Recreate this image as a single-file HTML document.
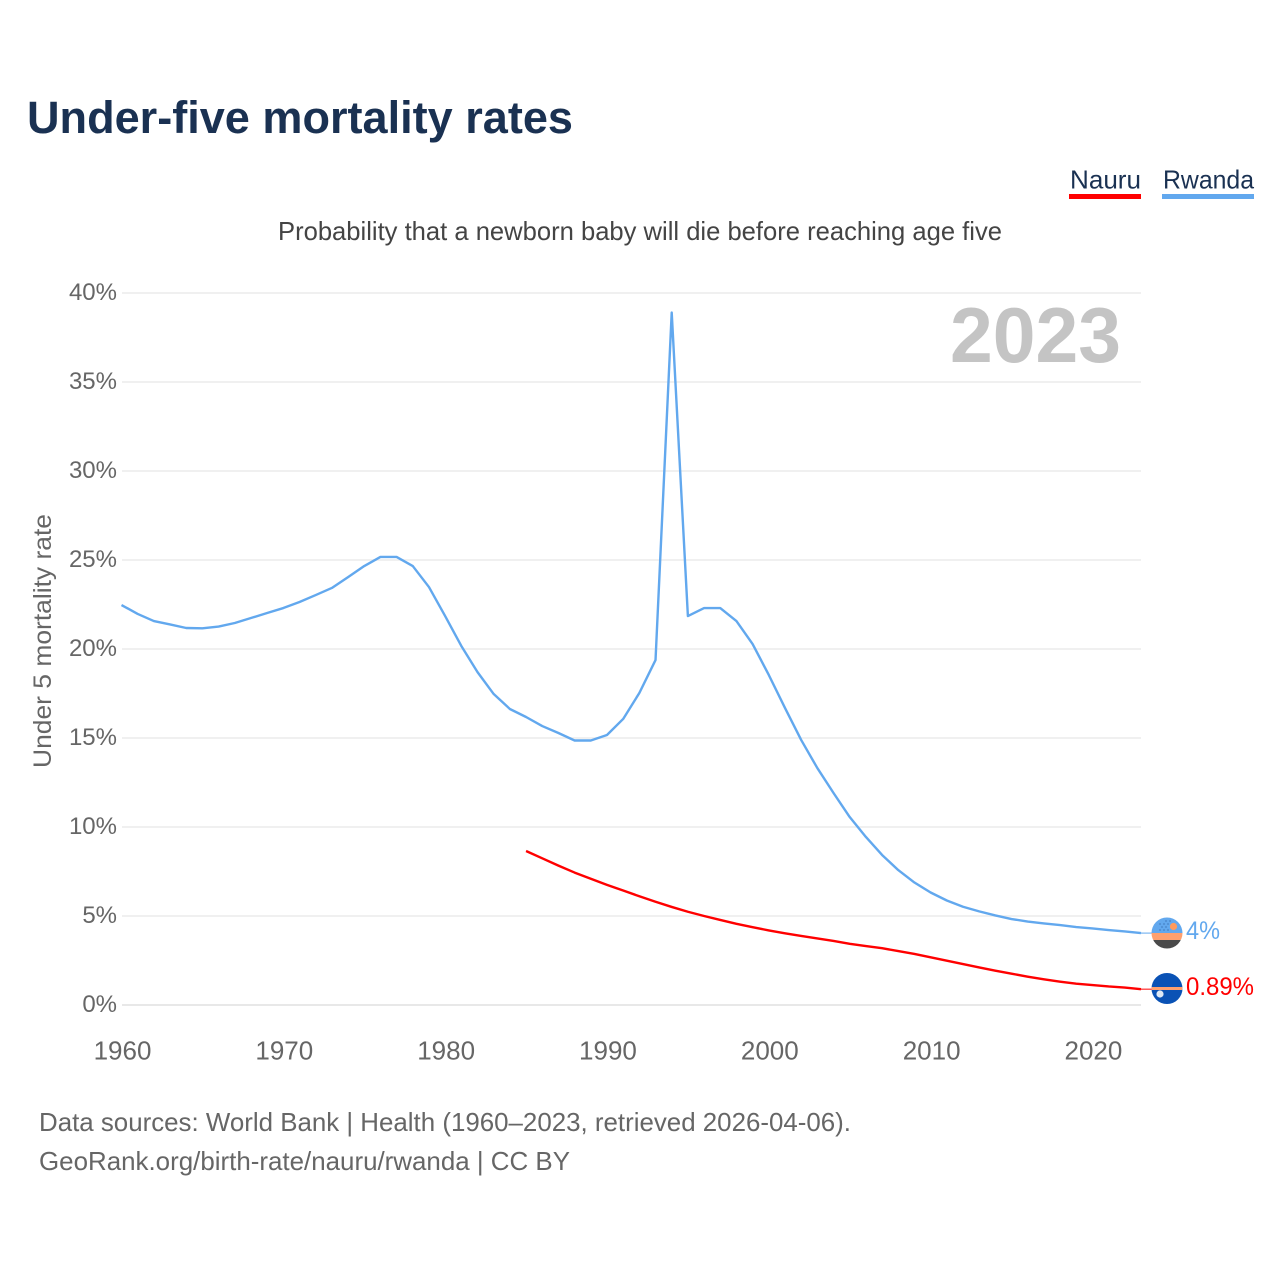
<!DOCTYPE html>
<html lang="en">
<head>
<meta charset="utf-8">
<title>Under-five mortality rates</title>
<style>
  html, body { margin: 0; padding: 0; background: #fff; }
  svg { display: block; font-family: "Liberation Sans", "DejaVu Sans", sans-serif; }
</style>
</head>
<body>
<svg id="chart" xmlns="http://www.w3.org/2000/svg" width="1280" height="1280" viewBox="0 0 1280 1280">
  <defs>
    <clipPath id="flag-clip-rwanda"><circle cx="1167" cy="933" r="15.5"></circle></clipPath>
    <clipPath id="flag-clip-nauru"><circle cx="1167" cy="988.5" r="15.5"></circle></clipPath>
  </defs>
  <rect width="1280" height="1280" fill="#ffffff"></rect>

  <text x="27" y="133" font-size="45" font-weight="700" fill="#1a3152" textLength="546" lengthAdjust="spacingAndGlyphs">Under-five mortality rates</text>

  <g>
    <g>
      <text x="1070" y="188.5" font-size="26" fill="#1a3152" textLength="71" lengthAdjust="spacingAndGlyphs">Nauru</text>
      <rect x="1069" y="194" width="72" height="5" fill="#ff0000"></rect>
    </g>
    <g>
      <text x="1163" y="188.5" font-size="26" fill="#1a3152" textLength="91" lengthAdjust="spacingAndGlyphs">Rwanda</text>
      <rect x="1162" y="194" width="92" height="5" fill="#62a8ee"></rect>
    </g>
  </g>

  <text x="278" y="240" font-size="26" fill="#444444" textLength="724" lengthAdjust="spacingAndGlyphs">Probability that a newborn baby will die before reaching age five</text>

  <g id="grid"></g>
  <g id="y-ticks"></g>
  <g id="x-ticks"></g>

  <text transform="translate(51,768) rotate(-90)" font-size="25" fill="#666666" textLength="254" lengthAdjust="spacingAndGlyphs">Under 5 mortality rate</text>

  <text x="950" y="362" font-size="78" font-weight="700" fill="#c4c4c4" textLength="171" lengthAdjust="spacingAndGlyphs">2023</text>

  <g id="series"></g>

  <g clip-path="url(#flag-clip-rwanda)">
    <rect x="1151" y="917" width="32" height="16" fill="#62a8ee"></rect>
    <rect x="1151" y="933" width="32" height="7" fill="#ffa06e"></rect>
    <rect x="1151" y="940" width="32" height="9" fill="#4a4a4a"></rect>
    <circle cx="1173.5" cy="926.5" r="3.6" fill="#ff9a5c"></circle>
    <g fill="#2a5f9e">
      <circle cx="1160" cy="930" r=".6"></circle><circle cx="1164" cy="930" r=".6"></circle><circle cx="1168" cy="930" r=".6"></circle>
      <circle cx="1162" cy="927" r=".6"></circle><circle cx="1166" cy="927" r=".6"></circle>
      <circle cx="1160" cy="924" r=".6"></circle><circle cx="1164" cy="924" r=".6"></circle><circle cx="1168" cy="924" r=".6"></circle>
      <circle cx="1166" cy="921" r=".6"></circle><circle cx="1170" cy="921" r=".6"></circle>
    </g>
  </g>
  <g clip-path="url(#flag-clip-nauru)">
    <rect x="1151" y="973" width="32" height="32" fill="#0a52b5"></rect>
    <rect x="1151" y="987" width="32" height="3" fill="#ffa06e"></rect>
    <circle cx="1160" cy="994" r="3.6" fill="#dfe9f5"></circle>
  </g>

  <text id="value-rwanda" x="1186" y="939" font-size="25" fill="#62a8ee" textLength="34" lengthAdjust="spacingAndGlyphs">4%</text>
  <text id="value-nauru" x="1186" y="995" font-size="25" fill="#ff0000" textLength="68" lengthAdjust="spacingAndGlyphs">0.89%</text>

  <g>
    <text x="39" y="1131" font-size="26" fill="#666666" textLength="812" lengthAdjust="spacingAndGlyphs">Data sources: World Bank | Health (1960–2023, retrieved 2026-04-06).</text>
    <text x="39" y="1170" font-size="26" fill="#666666" textLength="531" lengthAdjust="spacingAndGlyphs">GeoRank.org/birth-rate/nauru/rwanda | CC BY</text>
  </g>
</svg>
<script>
const yTickValues = [0, 5, 10, 15, 20, 25, 30, 35, 40];
const xTickYears = [1960, 1970, 1980, 1990, 2000, 2010, 2020];
const rwandaStartYear = 1960;
const rwandaValues = [
  22.47, 21.97, 21.57, 21.38, 21.18, 21.16, 21.26, 21.46, 21.74, 22.02,
  22.30, 22.64, 23.03, 23.43, 24.04, 24.66, 25.17, 25.17, 24.66, 23.48,
  21.85, 20.17, 18.70, 17.47, 16.63, 16.18, 15.67, 15.28, 14.86, 14.86,
  15.17, 16.07, 17.53, 19.38, 38.90, 21.85, 22.30, 22.30, 21.57, 20.28,
  18.54, 16.69, 14.89, 13.31, 11.91, 10.56, 9.44, 8.43, 7.58, 6.88,
  6.32, 5.87, 5.52, 5.26, 5.03, 4.83, 4.69, 4.58, 4.49, 4.38,
  4.30, 4.21, 4.13, 4.04
];
const nauruStartYear = 1985;
const nauruValues = [
  8.65, 8.24, 7.83, 7.44, 7.09, 6.75, 6.43, 6.11, 5.80, 5.51,
  5.24, 5.00, 4.78, 4.56, 4.37, 4.19, 4.03, 3.88, 3.74, 3.60,
  3.44, 3.31, 3.19, 3.03, 2.87, 2.68, 2.49, 2.30, 2.11, 1.93,
  1.76, 1.59, 1.44, 1.31, 1.20, 1.12, 1.04, 0.98, 0.89
];

const SVG_NS = 'http://www.w3.org/2000/svg';
const xScale = function (year) { return 121.5 + (year - 1960) * (1141 - 121.5) / 63; };
const yScale = function (value) { return 1005 - value * 17.8; };

const grid = document.getElementById('grid');
const yTicks = document.getElementById('y-ticks');
const xTicks = document.getElementById('x-ticks');
const series = document.getElementById('series');

yTickValues.forEach(function (v) {
  const line = document.createElementNS(SVG_NS, 'line');
  
  
  line.setAttribute('x1', 122);
  line.setAttribute('x2', 1141);
  line.setAttribute('y1', yScale(v));
  line.setAttribute('y2', yScale(v));
  line.setAttribute('stroke', v === 0 ? '#e8e8e8' : '#f0f0f0');
  line.setAttribute('stroke-width', 2);
  grid.appendChild(line);

  const label = document.createElementNS(SVG_NS, 'text');
  
  
  label.setAttribute('x', 117);
  label.setAttribute('y', yScale(v) + 7);
  label.setAttribute('text-anchor', 'end');
  label.setAttribute('font-size', 24);
  label.setAttribute('fill', '#666666');
  label.textContent = v + '%';
  yTicks.appendChild(label);
});

xTickYears.forEach(function (year) {
  const label = document.createElementNS(SVG_NS, 'text');
  
  
  label.setAttribute('x', xScale(year) + 1);
  label.setAttribute('y', 1059.5);
  label.setAttribute('text-anchor', 'middle');
  label.setAttribute('font-size', 26);
  label.setAttribute('fill', '#666666');
  label.textContent = String(year);
  xTicks.appendChild(label);
});

function linePoints(values, startYear) {
  return values.map(function (v, i) {
    return xScale(startYear + i).toFixed(2) + ',' + yScale(v).toFixed(2);
  }).join(' ');
}

const rwandaLeader = document.createElementNS(SVG_NS, 'line');


rwandaLeader.setAttribute('x1', xScale(2023));
rwandaLeader.setAttribute('x2', 1152);
rwandaLeader.setAttribute('y1', yScale(rwandaValues[rwandaValues.length - 1]));
rwandaLeader.setAttribute('y2', yScale(rwandaValues[rwandaValues.length - 1]));
rwandaLeader.setAttribute('stroke', '#62a8ee');
rwandaLeader.setAttribute('stroke-width', 1);
series.appendChild(rwandaLeader);

const nauruLeader = document.createElementNS(SVG_NS, 'line');


nauruLeader.setAttribute('x1', xScale(2023));
nauruLeader.setAttribute('x2', 1152);
nauruLeader.setAttribute('y1', yScale(nauruValues[nauruValues.length - 1]));
nauruLeader.setAttribute('y2', yScale(nauruValues[nauruValues.length - 1]));
nauruLeader.setAttribute('stroke', '#ff0000');
nauruLeader.setAttribute('stroke-width', 1);
series.appendChild(nauruLeader);

const rwandaLine = document.createElementNS(SVG_NS, 'polyline');


rwandaLine.setAttribute('points', linePoints(rwandaValues, rwandaStartYear));
rwandaLine.setAttribute('fill', 'none');
rwandaLine.setAttribute('stroke', '#62a8ee');
rwandaLine.setAttribute('stroke-width', 2.4);
rwandaLine.setAttribute('stroke-linejoin', 'round');
series.appendChild(rwandaLine);

const nauruLine = document.createElementNS(SVG_NS, 'polyline');


nauruLine.setAttribute('points', linePoints(nauruValues, nauruStartYear));
nauruLine.setAttribute('fill', 'none');
nauruLine.setAttribute('stroke', '#ff0000');
nauruLine.setAttribute('stroke-width', 2.4);
nauruLine.setAttribute('stroke-linejoin', 'round');
series.appendChild(nauruLine);
</script>
</body>
</html>
